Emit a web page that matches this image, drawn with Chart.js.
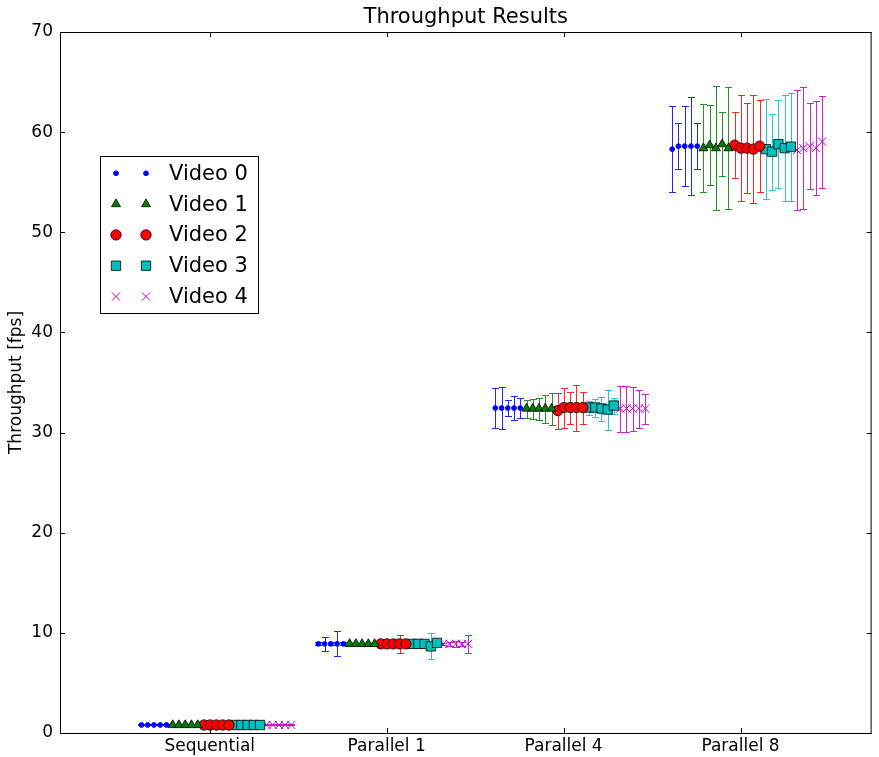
<!DOCTYPE html>
<html><head><meta charset="utf-8">
<script src="https://cdn.jsdelivr.net/npm/chart.js@4"></script>
<style>html,body{margin:0;padding:0;background:#fff}canvas{display:block}</style>
</head><body>
<canvas id="c" width="879" height="757"></canvas>
<script>
const chartTitle = 'Throughput Results';
const yAxisTitle = 'Throughput [fps]';
const categories = ['Sequential', 'Parallel 1', 'Parallel 4', 'Parallel 8'];
const seriesNames = ['Video 0', 'Video 1', 'Video 2', 'Video 3', 'Video 4'];
const yTicks = [0, 10, 20, 30, 40, 50, 60, 70];

// rows: Sequential, Parallel 1, Parallel 4, Parallel 8 ; 5 runs each
const video0Values = [
  [0.80, 0.80, 0.80, 0.80, 0.80],
  [8.90, 8.90, 8.90, 8.90, 8.90],
  [32.45, 32.45, 32.45, 32.45, 32.45],
  [58.3, 58.6, 58.6, 58.6, 58.6]];
const video0Errors = [
  [0.05, 0.05, 0.05, 0.05, 0.05],
  [0.15, 0.7, 0.15, 1.25, 0.15],
  [2.0, 2.1, 0.8, 1.2, 1.0],
  [4.3, 2.3, 4.0, 4.9, 2.3]];
const video1Values = [
  [0.80, 0.80, 0.80, 0.80, 0.80],
  [8.90, 8.90, 8.90, 8.90, 8.90],
  [32.4, 32.4, 32.4, 32.4, 32.4],
  [58.4, 58.7, 58.4, 58.8, 58.4]];
const video1Errors = [
  [0.05, 0.05, 0.05, 0.05, 0.05],
  [0.1, 0.1, 0.1, 0.1, 0.1],
  [0.9, 1.0, 1.1, 1.4, 1.6],
  [4.4, 4.0, 6.2, 3.2, 6.1]];
const video2Values = [
  [0.80, 0.80, 0.80, 0.80, 0.80],
  [8.90, 8.90, 8.90, 8.90, 8.90],
  [32.2, 32.5, 32.5, 32.5, 32.5],
  [58.7, 58.4, 58.4, 58.3, 58.6]];
const video2Errors = [
  [0.05, 0.05, 0.05, 0.05, 0.05],
  [0.1, 0.1, 0.1, 0.9, 0.1],
  [1.8, 2.0, 1.6, 2.3, 1.6],
  [3.3, 5.3, 4.5, 5.4, 4.6]];
const video3Values = [
  [0.80, 0.80, 0.80, 0.80, 0.80],
  [8.90, 8.90, 8.90, 8.65, 9.0],
  [32.5, 32.5, 32.4, 32.3, 32.7],
  [58.3, 58.05, 58.8, 58.4, 58.55]];
const video3Errors = [
  [0.05, 0.05, 0.05, 0.05, 0.05],
  [0.1, 0.1, 0.1, 1.3, 0.1],
  [0.7, 0.9, 1.2, 2.0, 0.8],
  [5.0, 3.8, 4.4, 5.3, 5.4]];
const video4Values = [
  [0.80, 0.80, 0.80, 0.80, 0.80],
  [8.90, 8.90, 8.90, 8.90, 8.90],
  [32.4, 32.4, 32.4, 32.4, 32.4],
  [58.2, 58.4, 58.6, 58.4, 59.05]];
const video4Errors = [
  [0.05, 0.05, 0.05, 0.05, 0.05],
  [0.1, 0.2, 0.3, 0.2, 0.9],
  [2.3, 2.3, 2.2, 1.9, 1.5],
  [6.0, 6.1, 4.3, 4.7, 4.6]];

const allValues = [video0Values, video1Values, video2Values, video3Values, video4Values];
const allErrors = [video0Errors, video1Errors, video2Errors, video3Errors, video4Errors];

const styles = [
  {color: '#0000ff', edge: '#0000ff', pointStyle: 'circle', radius: 2.4, bw: 1},
  {color: '#008000', edge: '#000000', pointStyle: 'triangle', radius: 5.2, bw: 0.8},
  {color: '#ff0000', edge: '#000000', pointStyle: 'circle', radius: 5.2, bw: 0.8},
  {color: '#00bfbf', edge: '#000000', pointStyle: 'rect', radius: 6.6, bw: 0.8},
  {color: '#bf00bf', edge: '#bf00bf', pointStyle: 'crossRot', radius: 5.8, bw: 1}
];

const START = -0.386, STEP = 0.0353;
const datasets = seriesNames.map((name, v) => {
  const pts = [];
  categories.forEach((c, ci) => {
    allValues[v][ci].forEach((val, r) => {
      pts.push({x: ci + START + (v * 5 + r) * STEP, y: val, e: allErrors[v][ci][r]});
    });
  });
  const s = styles[v];
  return {
    label: name, data: pts, showLine: false,
    pointStyle: s.pointStyle, pointRadius: s.radius,
    backgroundColor: s.color, borderColor: s.edge, pointBorderWidth: s.bw,
    errColor: s.color
  };
});

const font = 'DejaVu Sans';

const errorBars = {
  id: 'errorBars',
  beforeDatasetsDraw(chart) {
    const {ctx, scales: {x, y}} = chart;
    ctx.save();
    ctx.lineWidth = 1;
    chart.data.datasets.forEach(ds => {
      ctx.strokeStyle = ds.errColor;
      ctx.globalAlpha = 0.85;
      ds.data.forEach(p => {
        const px = Math.round(x.getPixelForValue(p.x)) + 0.5;
        const t = Math.round(y.getPixelForValue(p.y + p.e)) + 0.5;
        const b = Math.round(y.getPixelForValue(p.y - p.e)) + 0.5;
        ctx.beginPath();
        ctx.moveTo(px, t); ctx.lineTo(px, b);
        ctx.moveTo(px - 3.5, t); ctx.lineTo(px + 3.5, t);
        ctx.moveTo(px - 3.5, b); ctx.lineTo(px + 3.5, b);
        ctx.stroke();
      });
    });
    ctx.restore();
  }
};

const frame = {
  id: 'frame',
  afterDatasetsDraw(chart) {
    const {ctx, chartArea: a, scales: {x, y}} = chart;
    ctx.save();
    ctx.strokeStyle = '#000'; ctx.lineWidth = 1;
    ctx.strokeRect(a.left + 0.5, a.top + 0.5, a.right - a.left - 1, a.bottom - a.top);
    ctx.beginPath();
    x.ticks.forEach(t => {
      const px = Math.round(x.getPixelForValue(t.value)) + 0.5;
      ctx.moveTo(px, a.bottom); ctx.lineTo(px, a.bottom - 5);
      ctx.moveTo(px, a.top); ctx.lineTo(px, a.top + 5);
    });
    y.ticks.forEach(t => {
      const py = Math.round(y.getPixelForValue(t.value)) + 0.5;
      ctx.moveTo(a.left, py); ctx.lineTo(a.left + 5, py);
      ctx.moveTo(a.right, py); ctx.lineTo(a.right - 5, py);
    });
    ctx.stroke();
    ctx.fillStyle = '#000';
    ctx.font = '21px "' + font + '"';
    ctx.textAlign = 'center'; ctx.textBaseline = 'middle';
    ctx.fillText(chartTitle, (a.left + a.right) / 2, 18);
    ctx.restore();
  },
  afterDraw(chart) {
    const {ctx, chartArea: a} = chart;
    const bx = a.left + 40, by = 156, bw = 158, bh = 157;
    ctx.save();
    ctx.fillStyle = '#fff';
    ctx.fillRect(bx, by, bw, bh);
    ctx.strokeStyle = '#000'; ctx.lineWidth = 1;
    ctx.strokeRect(bx + 0.5, by + 0.5, bw, bh);
    ctx.font = '21px "' + font + '"';
    ctx.textAlign = 'left'; ctx.textBaseline = 'middle';
    chart.data.datasets.forEach((ds, i) => {
      const cy = by + 17.3 + i * 30.8;
      ctx.fillStyle = ds.backgroundColor;
      ctx.strokeStyle = ds.borderColor;
      ctx.lineWidth = ds.pointBorderWidth;
      [bx + 16, bx + 46].forEach(mx => {
        Chart.helpers.drawPoint(ctx, {pointStyle: ds.pointStyle, radius: ds.pointRadius, borderWidth: ds.pointBorderWidth, rotation: 0}, mx, cy);
      });
      ctx.fillStyle = '#000';
      ctx.fillText(ds.label, bx + 69, cy + 1);
    });
    ctx.restore();
  }
};

new Chart(document.getElementById('c'), {
  type: 'scatter',
  data: {datasets},
  options: {
    responsive: false, animation: false,
    layout: {padding: {left: 0, right: 6, top: 32, bottom: 0}},
    plugins: {legend: {display: false}, title: {display: false}, tooltip: {enabled: false}},
    scales: {
      x: {
        type: 'linear', min: -0.8465, max: 3.741,
        afterBuildTicks: s => { s.ticks = categories.map((c, i) => ({value: i})); },
        afterFit: s => { s.height = 24; },
        grid: {display: false, drawTicks: false}, border: {display: false},
        ticks: {padding: 3, color: '#000', autoSkip: false, maxRotation: 0,
          font: {family: font, size: 17},
          callback: v => categories[v] ?? ''}
      },
      y: {
        min: 0, max: 70,
        afterBuildTicks: s => { s.ticks = yTicks.map(v => ({value: v})); },
        afterFit: s => { s.width = 60; },
        grid: {display: false, drawTicks: false}, border: {display: false},
        ticks: {padding: 7, color: '#000', font: {family: font, size: 17}},
        title: {display: true, text: yAxisTitle, color: '#000', padding: {top: 6, bottom: 0},
          font: {family: font, size: 17}}
      }
    }
  },
  plugins: [errorBars, frame]
});
</script>
</body></html>
